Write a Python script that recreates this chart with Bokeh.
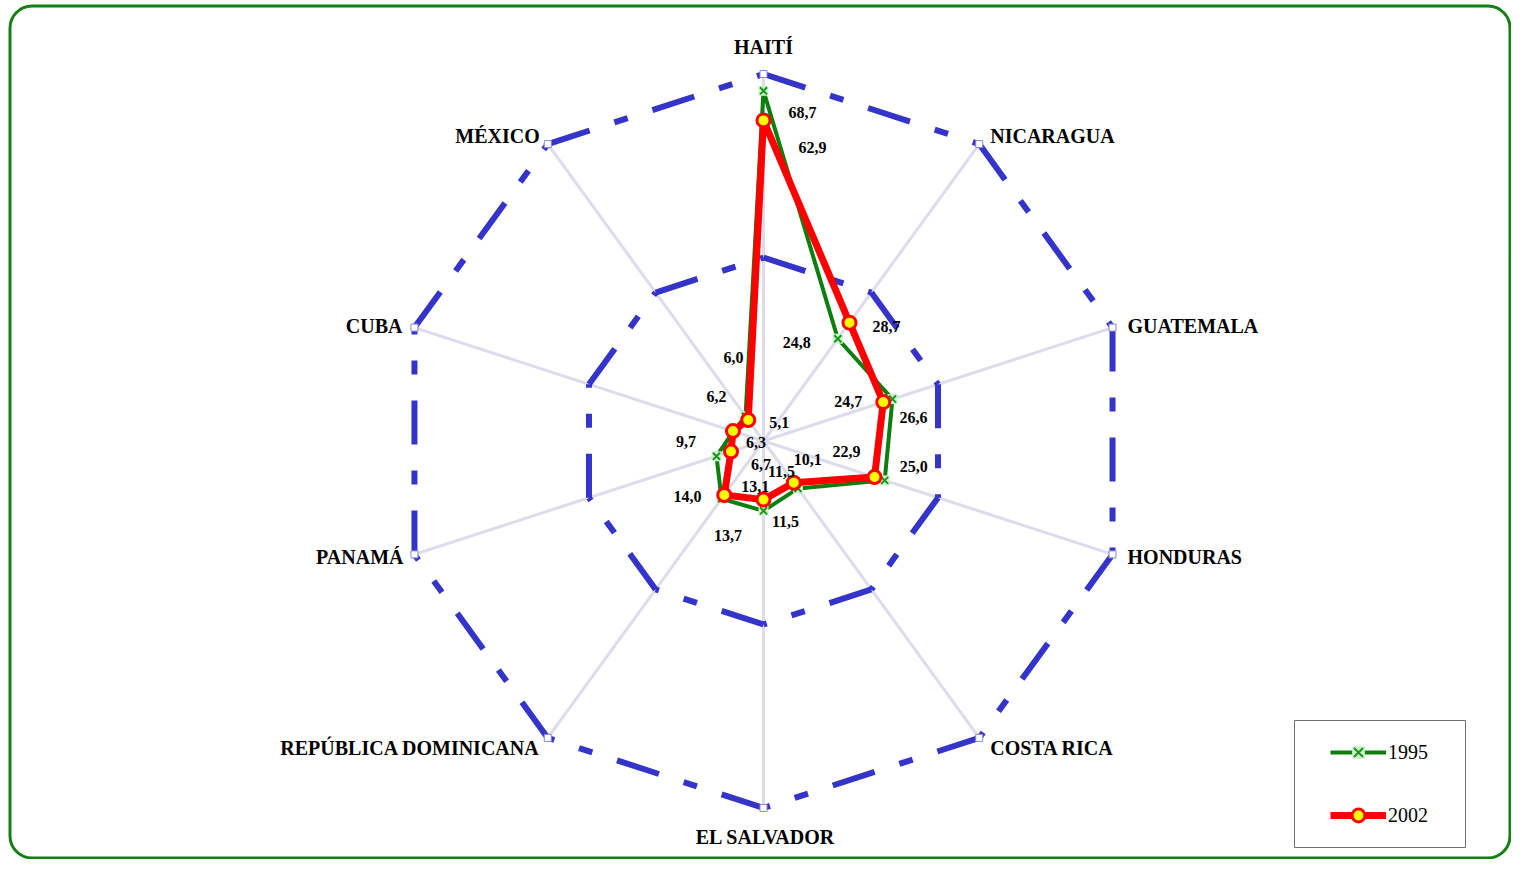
import math
from bokeh.plotting import figure
from bokeh.models import Range1d, BoxAnnotation, Legend, LegendItem, ColumnDataSource
from bokeh.core.properties import value
from bokeh.embed import file_html
from bokeh.resources import INLINE

# ---------------- data ----------------
categories = ["HAITÍ", "NICARAGUA", "GUATEMALA", "HONDURAS", "COSTA RICA",
              "EL SALVADOR", "REPÚBLICA DOMINICANA", "PANAMÁ", "CUBA", "MÉXICO"]
values_1995 = [68.7, 24.8, 26.6, 25.0, 11.5, 13.7, 14.0, 9.7, 6.2, 6.0]
values_2002 = [62.9, 28.7, 24.7, 22.9, 10.1, 11.5, 13.1, 6.7, 6.3, 5.1]
series_names = ["1995", "2002"]
ring_levels = [36, 72]
axis_max = 72

# ---------------- layout (screen px) ----------------
W, H = 1511, 859
ORIGIN = 0
CX, CY = 763.0, 440.5
R_PX = 367.0
S = R_PX / axis_max

def dx(X):
    return (X - CX) / S

def dy(Y):
    return (CY - Y) / S

n = len(categories)
angles = [2 * math.pi * i / n for i in range(n)]

def polar(vals):
    xs = [v * math.sin(a) for v, a in zip(vals, angles)]
    ys = [v * math.cos(a) for v, a in zip(vals, angles)]
    return xs, ys

# label offsets in screen px (dx right, dy down) relative to their anchor
cat_offsets = [(0, -27), (11, -7.6), (15, -2), (15, 3), (11, 9.6),
               (2, 29), (-8, 9.6), (-11, 3), (-12, -2), (-8, -7.6)]
cat_align = ["center", "left", "left", "left", "left",
             "center", "right", "right", "right", "right"]
off_1995 = [(39, 21.5), (-41, 4), (21, 18), (29, -14), (-16.5, -17),
            (-35.5, 25), (-34, -2), (-30.5, -15), (-17, -35), (-12, -59)]
off_2002 = [(49, 27), (37, 3.5), (-35, -1), (-28, -26), (14, -23),
            (22, 22), (31, -9), (30, 13), (23, 11), (31, 3)]

p = figure(width=W, height=H,
           x_range=Range1d(dx(ORIGIN), dx(ORIGIN + W)),
           y_range=Range1d(dy(ORIGIN + H), dy(ORIGIN)),
           x_axis_type=None, y_axis_type=None,
           toolbar_location=None, output_backend="svg",
           min_border=0, outline_line_color=None,
           background_fill_color="white", border_fill_color="white")
p.grid.visible = False

# spokes
ox, oy = polar([axis_max] * n)
p.segment(x0=[0] * n, y0=[0] * n, x1=ox, y1=oy, line_color="#DCDCEC", line_width=3)

# rings (dashed, each edge restarting the dash pattern)
for lvl in ring_levels:
    rx, ry = polar([lvl] * n)
    p.segment(x0=rx, y0=ry, x1=rx[1:] + rx[:1], y1=ry[1:] + ry[:1],
              line_color="#3434CA", line_width=6, line_dash="44 26 14 26")

p.scatter(ox, oy, marker="square", size=7, fill_color="white",
          line_color="#8A8AD0", line_width=1)

# series
gx, gy = polar(values_1995)
g_line = p.line(gx + gx[:1], gy + gy[:1], line_color="#0B7F0B", line_width=4,
                line_join="round")
g_back = p.scatter(gx, gy, marker="square", size=10, fill_color="#CDF3CD",
                   line_color=None)
g_mark = p.scatter(gx, gy, marker="x", size=10, line_color="#1A951A", line_width=2)

rx2, ry2 = polar(values_2002)
r_line = p.line(rx2 + rx2[:1], ry2 + ry2[:1], line_color="#FF0000", line_width=7,
                line_join="round")
r_mark = p.scatter(rx2, ry2, marker="circle", size=13, fill_color="#FFFF00",
                   line_color="#FF0000", line_width=3)

# data labels
def fmt(v):
    return f"{v:.1f}".replace(".", ",")

for xs, ys, vals, offs in ((gx, gy, values_1995, off_1995), (rx2, ry2, values_2002, off_2002)):
    src = ColumnDataSource(dict(
        x=[x + o[0] / S for x, o in zip(xs, offs)],
        y=[y - o[1] / S for y, o in zip(ys, offs)],
        t=[fmt(v) for v in vals]))
    p.text(x="x", y="y", text="t", source=src, text_font=value("Liberation Serif"),
           text_font_style="bold", text_font_size="16px", text_color="black",
           text_align="center", text_baseline="middle")

# category labels
for i, c in enumerate(categories):
    o = cat_offsets[i]
    p.text(x=[ox[i] + o[0] / S], y=[oy[i] - o[1] / S], text=[c],
           text_font=value("Liberation Serif"), text_font_style="bold",
           text_font_size="20px", text_color="black",
           text_align=cat_align[i], text_baseline="middle")

# legend frame + legend
p.add_layout(BoxAnnotation(left=dx(1294), right=dx(1465), top=dy(720), bottom=dy(847),
                           fill_color=None, line_color="#707070", line_alpha=1.0,
                           line_width=1))
legend = Legend(items=[LegendItem(label=series_names[0], renderers=[g_line, g_back, g_mark]),
                       LegendItem(label=series_names[1], renderers=[r_line, r_mark])],
                location=(1330, 28), orientation="vertical", padding=0, margin=0,
                spacing=31, glyph_width=56, glyph_height=32, label_height=32,
                label_standoff=2, border_line_color=None, background_fill_alpha=0,
                label_text_font="Liberation Serif", label_text_font_size="20px",
                label_text_color="black")
p.add_layout(legend)

# outer rounded border
p.add_layout(BoxAnnotation(left=dx(9.5), right=dx(ORIGIN + W - 1.5), top=dy(5.5),
                           bottom=dy(ORIGIN + H - 1.5), fill_color=None,
                           line_color="#138013", line_alpha=1.0, line_width=3,
                           border_radius=22))

open("out.html", "w").write(file_html(p, INLINE))
